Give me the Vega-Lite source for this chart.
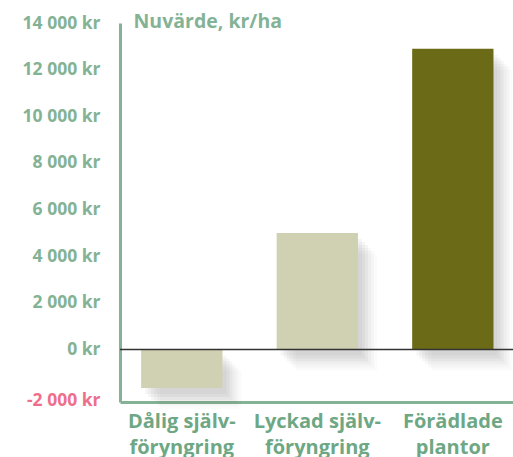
{
  "$schema": "https://vega.github.io/schema/vega-lite/v6.json",
  "width": 393,
  "height": 379,
  "autosize": {"type": "none"},
  "padding": {"left": 120, "top": 23, "right": 0, "bottom": 55},
  "background": "white",
  "config": {"view": {"stroke": null}, "font": "Open Sans"},
  "data": {
    "values": [
      {"kat": "Dålig själv-|föryngring", "v": -1650, "typ": "a"},
      {"kat": "Lyckad själv-|föryngring", "v": 5000, "typ": "a"},
      {"kat": "Förädlade|plantor", "v": 12900, "typ": "b"}
    ]
  },
  "layer": [
    {
      "mark": {"type": "bar", "xOffset": 4, "yOffset": 6, "color": "#555555", "opacity": 0.05},
      "encoding": {"x": {"field": "kat", "type": "nominal", "sort": null}, "y": {"field": "v", "type": "quantitative"}}
    },
    {
      "mark": {"type": "bar", "xOffset": 7, "yOffset": 9, "color": "#555555", "opacity": 0.05},
      "encoding": {"x": {"field": "kat", "type": "nominal", "sort": null}, "y": {"field": "v", "type": "quantitative"}}
    },
    {
      "mark": {"type": "bar", "xOffset": 10, "yOffset": 12, "color": "#555555", "opacity": 0.05},
      "encoding": {"x": {"field": "kat", "type": "nominal", "sort": null}, "y": {"field": "v", "type": "quantitative"}}
    },
    {
      "mark": {"type": "bar", "xOffset": 13, "yOffset": 15, "color": "#555555", "opacity": 0.045},
      "encoding": {"x": {"field": "kat", "type": "nominal", "sort": null}, "y": {"field": "v", "type": "quantitative"}}
    },
    {
      "mark": {"type": "bar", "xOffset": 16, "yOffset": 18, "color": "#555555", "opacity": 0.035},
      "encoding": {"x": {"field": "kat", "type": "nominal", "sort": null}, "y": {"field": "v", "type": "quantitative"}}
    },
    {
      "mark": {"type": "bar", "xOffset": 19, "yOffset": 21, "color": "#555555", "opacity": 0.025},
      "encoding": {"x": {"field": "kat", "type": "nominal", "sort": null}, "y": {"field": "v", "type": "quantitative"}}
    },
    {
      "mark": {"type": "bar"},
      "encoding": {
        "x": {
          "field": "kat", "type": "nominal", "sort": null,
          "scale": {"paddingInner": 0.4, "paddingOuter": 0.15, "align": 0.52},
          "axis": {
            "title": null,
            "labelAngle": 0,
            "labelAlign": "center",
            "labelExpr": "split(datum.label, '|')",
            "labelFontSize": 20,
            "labelFontWeight": "bold",
            "labelColor": "#6ea784",
            "labelLineHeight": 26,
            "labelBaseline": "top",
            "labelPadding": 9,
            "labelOverlap": false,
            "ticks": false,
            "domainColor": "#84b295",
            "domainWidth": 3
          }
        },
        "y": {
          "field": "v", "type": "quantitative",
          "scale": {"domain": [-2250, 14000], "nice": false},
          "axis": {
            "title": "Nuvärde, kr/ha",
            "titleAngle": 0,
            "titleAlign": "left",
            "titleBaseline": "middle",
            "titleX": 13,
            "titleY": -2,
            "titleFontSize": 19.5,
            "titleFontWeight": "bold",
            "titleColor": "#84b295",
            "values": [-2000, 0, 2000, 4000, 6000, 8000, 10000, 12000, 14000],
            "labelExpr": "replace(replace(format(datum.value, ',d'), ',', ' '), '−', '-') + ' kr'",
            "labelFontSize": 17.5,
            "labelFontWeight": "bold",
            "labelColor": {"condition": {"test": "datum.value < 0", "value": "#ee6f8c"}, "value": "#84b295"},
            "labelOffset": {"condition": {"test": "datum.value < 0", "value": 4}, "value": 0},
            "labelPadding": 20,
            "ticks": false,
            "grid": false,
            "domainColor": "#84b295",
            "domainWidth": 3
          }
        },
        "color": {
          "field": "typ", "type": "nominal",
          "scale": {"domain": ["a", "b"], "range": ["#d0d0b2", "#6b6b17"]},
          "legend": null
        }
      }
    },
    {
      "data": {"values": [{"z": 0}]},
      "mark": {"type": "rule", "color": "#333333", "strokeWidth": 1.5},
      "encoding": {"y": {"field": "z", "type": "quantitative"}}
    }
  ]
}
